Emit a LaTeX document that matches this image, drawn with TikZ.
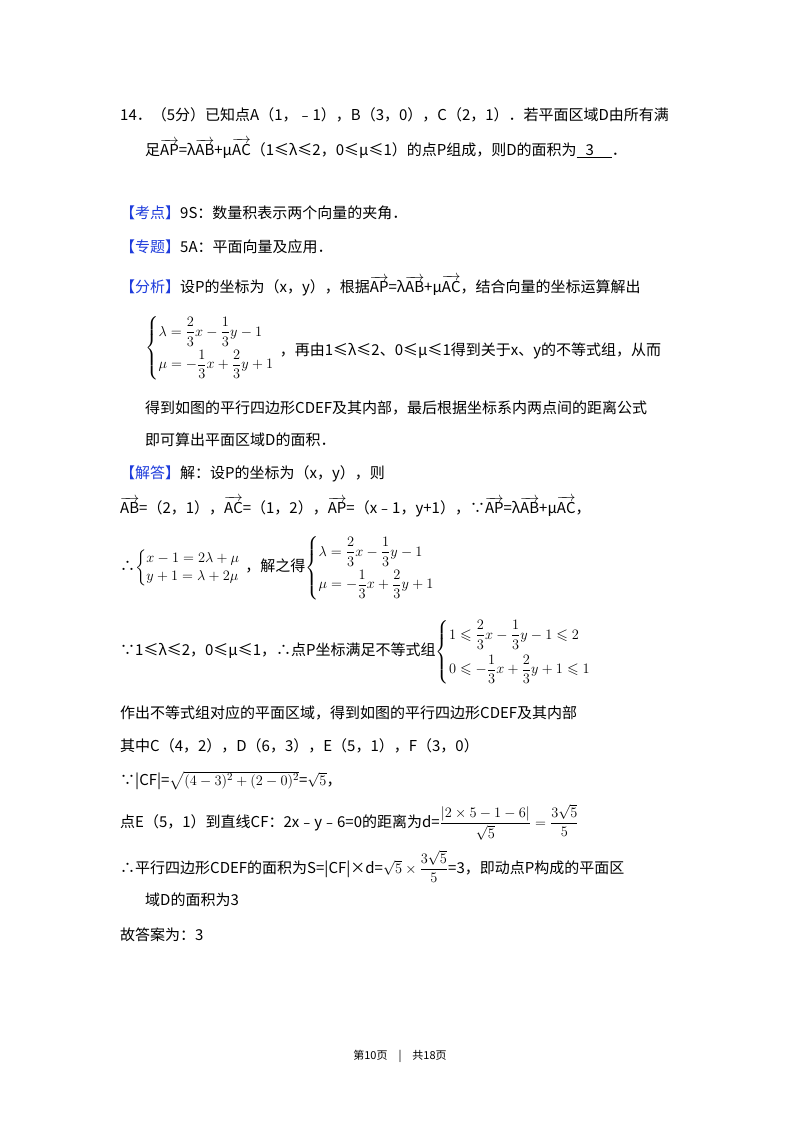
\documentclass[tikz,border=0pt]{standalone}
\usepackage{amsmath,amssymb}
\usepackage{fontspec}
\setmainfont{Noto Sans CJK SC}
\newcommand{\va}[1]{\overrightarrow{\mathrm{#1}}}
\definecolor{kb}{RGB}{30,60,220}
\begin{document}
\begin{tikzpicture}[x=1pt,y=-1pt,
  t/.style={anchor=base west,inner sep=0pt,font=\fontsize{15}{18}\selectfont}]
\useasboundingbox (0,0) rectangle (800,1132);
\fill[white] (0,0) rectangle (800,1132);
\node[t] (l1) at (120,120) {14．（5分）已知点A（1，﹣1），B（3，0），C（2，1）．若平面区域D由所有满};
\node[t] (l2) at (145,155) {足$\va{AP}$=λ$\va{AB}$+μ$\va{AC}$（1≤λ≤2，0≤μ≤1）的点P组成，则D的面积为\underline{\hspace{0.6em}3\hspace{1.2em}}．};
\node[t] (l3) at (120,218) {\textcolor{kb}{【考点】}9S：数量积表示两个向量的夹角．};
\node[t] (l4) at (120,252) {\textcolor{kb}{【专题】}5A：平面向量及应用．};
\node[t] (l5) at (120,292) {\textcolor{kb}{【分析】}设P的坐标为（x，y），根据$\va{AP}$=λ$\va{AB}$+μ$\va{AC}$，结合向量的坐标运算解出};
\node[t,anchor=west] (s1) at (145,348) {$\left\{\begin{array}{@{}l}\lambda=\dfrac{2}{3}x-\dfrac{1}{3}y-1\\[8pt]\mu=-\dfrac{1}{3}x+\dfrac{2}{3}y+1\end{array}\right.$};
\node[t] (l6) at (s1.east |- 0,355) {，再由1≤λ≤2、0≤μ≤1得到关于x、y的不等式组，从而};
\node[t] (l7) at (145,413) {得到如图的平行四边形CDEF及其内部，最后根据坐标系内两点间的距离公式};
\node[t] (l8) at (145,445) {即可算出平面区域D的面积．};
\node[t] (l9) at (120,478) {\textcolor{kb}{【解答】}解：设P的坐标为（x，y），则};
\node[t] (l10) at (120,513) {$\va{AB}$=（2，1），$\va{AC}$=（1，2），$\va{AP}$=（x﹣1，y+1），∵$\va{AP}$=λ$\va{AB}$+μ$\va{AC}$，};
\node[t,anchor=west] (l11) at (120,568) {∴$\left\{\begin{array}{@{}l}x-1=2\lambda+\mu\\y+1=\lambda+2\mu\end{array}\right.$，解之得$\left\{\begin{array}{@{}l}\lambda=\dfrac{2}{3}x-\dfrac{1}{3}y-1\\[8pt]\mu=-\dfrac{1}{3}x+\dfrac{2}{3}y+1\end{array}\right.$};
\node[t,anchor=west] (l12) at (120,652) {∵1≤λ≤2，0≤μ≤1，∴点P坐标满足不等式组$\left\{\begin{array}{@{}l}1\leqslant\dfrac{2}{3}x-\dfrac{1}{3}y-1\leqslant2\\[10pt]0\leqslant-\dfrac{1}{3}x+\dfrac{2}{3}y+1\leqslant1\end{array}\right.$};
\node[t] (l13) at (120,718) {作出不等式组对应的平面区域，得到如图的平行四边形CDEF及其内部};
\node[t] (l14) at (120,751) {其中C（4，2），D（6，3），E（5，1），F（3，0）};
\node[t] (l15) at (120,785) {∵|CF|=$\sqrt{(4-3)^2+(2-0)^2}$=$\sqrt{5}$，};
\node[t] (l16) at (120,827) {点E（5，1）到直线CF：2x﹣y﹣6=0的距离为d=$\dfrac{|2\times5-1-6|}{\sqrt5}=\dfrac{3\sqrt5}{5}$};
\node[t] (l17) at (120,873) {∴平行四边形CDEF的面积为S=|CF|×d=$\sqrt5\times\dfrac{3\sqrt5}{5}$=3，即动点P构成的平面区};
\node[t] (l18) at (145,905) {域D的面积为3};
\node[t] (l19) at (120,940) {故答案为：3};
\node[anchor=base,inner sep=0pt,font=\fontsize{11}{13}\selectfont] (ft) at (400,1059) {第10页\quad{}|\quad{}共18页};
\end{tikzpicture}
\end{document}
